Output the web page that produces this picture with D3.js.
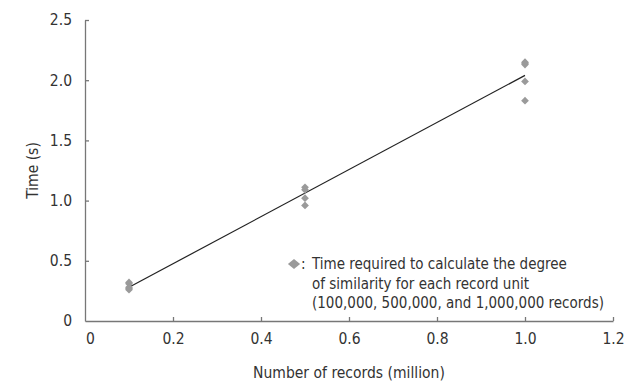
<!DOCTYPE html>
<html>
<head>
<meta charset="utf-8">
<script src="https://cdn.jsdelivr.net/npm/d3@7"></script>
<style>
  body { margin: 0; background: #fff; }
  text { font-family: "Liberation Sans Narrow", "DejaVu Sans Condensed", sans-serif; fill: #333; }
</style>
</head>
<body>
<div id="chart"></div>
<script>
// measured times (s) per record count (million)
const groupX = [0.1, 0.5, 1.0];
const groupTimes = [
    [0.32, 0.31, 0.28, 0.27, 0.26],
    [1.11, 1.09, 1.02, 0.96],
    [2.15, 2.14, 2.13, 1.99, 1.83]
];
// fitted line end points
const trendX = [0.1, 1.0];
const trendY = [0.28, 2.04];
const xTicks = [0, 0.2, 0.4, 0.6, 0.8, 1.0, 1.2];
const yTicks = [0, 0.5, 1.0, 1.5, 2.0, 2.5];
const legendLines = [
    'Time required to calculate the degree',
    'of similarity for each record unit',
    '(100,000, 500,000, and 1,000,000 records)'
];

const width = 629, height = 385;
const margin = { top: 20, right: 16, bottom: 64, left: 85 };

const svg = d3.select('#chart').append('svg')
    .attr('width', width)
    .attr('height', height);

const x = d3.scaleLinear().domain([0, 1.2]).range([margin.left, width - margin.right]);
const y = d3.scaleLinear().domain([0, 2.5]).range([height - margin.bottom, margin.top]);

// 坐标轴
const xAxis = svg.append('g')
    .attr('transform', `translate(0, ${y(0)})`)
    .call(d3.axisBottom(x).tickValues(xTicks).tickSizeInner(-4).tickSizeOuter(0)
        .tickFormat(d => d === 0 ? '0' : d3.format('.1f')(d)));
xAxis.selectAll('text').attr('y', 12).attr('font-size', 15.5);
xAxis.selectAll('.tick').filter(d => d === 0).select('text').attr('dx', 5);

const yAxis = svg.append('g')
    .attr('transform', `translate(${x(0)}, 0)`)
    .call(d3.axisLeft(y).tickValues(yTicks).tickSizeInner(-4).tickSizeOuter(0)
        .tickFormat(d => d === 0 ? '0' : d3.format('.1f')(d)));
yAxis.selectAll('text').attr('x', -13).attr('font-size', 15.5);

svg.selectAll('.domain, .tick line').attr('stroke', '#777').attr('stroke-width', 1.3);
svg.selectAll('.tick text').style('fill', '#333');
svg.selectAll('.tick').filter(d => d === 0).select('line').remove();

// axis titles
svg.append('text')
    .attr('x', (x(0) + x(1.2)) / 2)
    .attr('y', 378)
    .attr('text-anchor', 'middle')
    .attr('font-size', 15.5)
    .text('Number of records (million)');

svg.append('text')
    .attr('transform', `translate(38, ${(y(0) + y(2.5)) / 2}) rotate(-90)`)
    .attr('text-anchor', 'middle')
    .attr('font-size', 15.5)
    .text('Time (s)');

// trend line
svg.append('line')
    .attr('x1', x(trendX[0])).attr('y1', y(trendY[0]))
    .attr('x2', x(trendX[1])).attr('y2', y(trendY[1]))
    .attr('stroke', '#222').attr('stroke-width', 1.2);

// points
const points = [];
groupX.forEach((gx, i) => groupTimes[i].forEach(t => points.push({ x: gx, t: t })));
const diamond = d3.symbol().type(d3.symbolSquare).size(30);
svg.selectAll('.pt').data(points).enter()
    .append('path')
    .attr('class', 'pt')
    .attr('d', diamond)
    .attr('transform', d => `translate(${x(d.x)}, ${y(d.t)}) rotate(45)`)
    .attr('fill', '#9a9a9a');

// legend
const lg = svg.append('g').attr('transform', 'translate(294, 264)');
lg.append('path')
    .attr('d', d3.symbol().type(d3.symbolSquare).size(52))
    .attr('transform', 'scale(1.2, 1) rotate(45)')
    .attr('fill', '#9a9a9a');
lg.append('text').attr('x', 7).attr('dy', '0.35em').attr('font-size', 15).text(':');
lg.selectAll('.lt').data(legendLines).enter()
    .append('text')
    .attr('class', 'lt')
    .attr('x', 18)
    .attr('y', (d, i) => i * 19.5)
    .attr('dy', '0.35em')
    .attr('font-size', 15)
    .text(d => d);
</script>
</body>
</html>
